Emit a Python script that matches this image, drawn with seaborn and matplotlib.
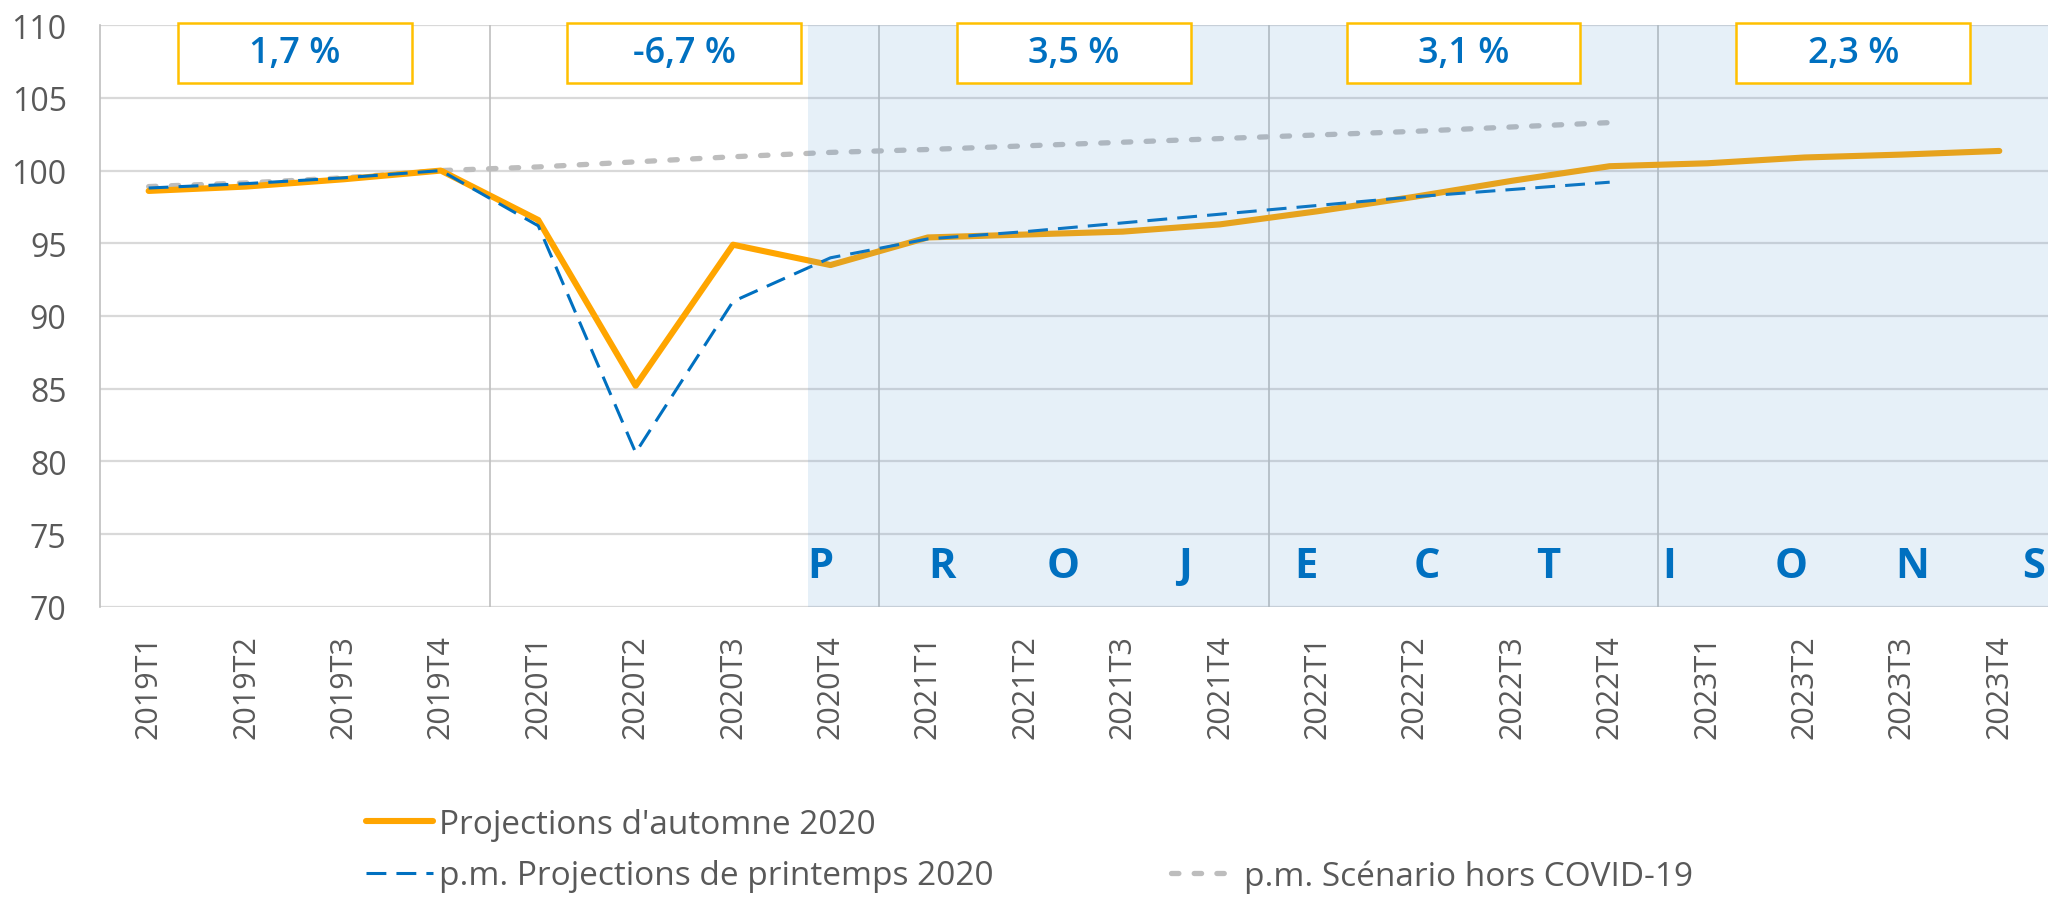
import matplotlib
matplotlib.use("Agg")
import matplotlib.pyplot as plt
import matplotlib.patches as mpatches
from matplotlib.lines import Line2D
import numpy as np
import pandas as pd
import seaborn as sns

# --- data ---
quarters = ["2019T1", "2019T2", "2019T3", "2019T4",
            "2020T1", "2020T2", "2020T3", "2020T4",
            "2021T1", "2021T2", "2021T3", "2021T4",
            "2022T1", "2022T2", "2022T3", "2022T4",
            "2023T1", "2023T2", "2023T3", "2023T4"]
autumn_2020 = [98.6, 98.9, 99.4, 100.0, 96.6, 85.2, 94.9, 93.5,
               95.4, 95.6, 95.8, 96.3, 97.2, 98.2, 99.3, 100.3,
               100.5, 100.9, 101.1, 101.35]
spring_2020 = [98.8, 99.1, 99.5, 100.0, 96.2, 80.6, 91.0, 94.0,
               95.3, 95.8, 96.4, 97.0, 97.6, 98.2, 98.7, 99.2]
no_covid = [98.9, 99.15, 99.5, 100.0, 100.25, 100.6, 100.95, 101.25,
            101.45, 101.7, 101.95, 102.2, 102.45, 102.7, 103.0, 103.3]
growth_labels = ["1,7 %", "-6,7 %", "3,5 %", "3,1 %", "2,3 %"]
proj_word = "PROJECTIONS"

labels = ["Projections d'automne 2020",
          "p.m. Projections de printemps 2020",
          "p.m. Scénario hors COVID-19"]

ORANGE = "#FFA500"
BLUE = "#0070C0"
GREY = "#BDBDBD"
TXT = "#595959"

sns.set_style("white")
plt.rcParams["font.family"] = ["Open Sans", "DejaVu Sans"]

fig = plt.figure(figsize=(20.48, 9.03), dpi=100)
ax = fig.add_axes([0.0488, 0.327, 0.9512, 0.644])

x_all = np.arange(len(quarters))
df_a = pd.DataFrame({"x": x_all, "v": autumn_2020})
df_s = pd.DataFrame({"x": x_all[:len(spring_2020)], "v": spring_2020})
df_n = pd.DataFrame({"x": x_all[:len(no_covid)], "v": no_covid})

sns.lineplot(data=df_n, x="x", y="v", ax=ax, color=GREY, linewidth=3.8,
             linestyle=(0, (1.4, 2.9)), dash_capstyle="round",
             label=labels[2], zorder=3)
sns.lineplot(data=df_a, x="x", y="v", ax=ax, color=ORANGE, linewidth=4.4,
             label=labels[0], zorder=3.2)
sns.lineplot(data=df_s, x="x", y="v", ax=ax, color=BLUE, linewidth=2.2,
             linestyle=(0, (6.5, 3.3)), label=labels[1], zorder=3.4)

# projection shading (semi-transparent, drawn over the lines)
ax.axvspan(6.77, 19.5, color="#5B9BD5", alpha=0.15, lw=0, zorder=4)

ax.set_xlim(-0.5, 19.5)
ax.set_ylim(70, 110)
ax.set_yticks(range(70, 111, 5))
ax.set_xticks(x_all)
ax.set_xticklabels(quarters, rotation=90)
ax.set_xlabel("")
ax.set_ylabel("")

ax.grid(axis="y", color="#D9D9D9", linewidth=1.6, zorder=0)
ax.set_axisbelow(True)
for xv in [3.5, 7.5, 11.5, 15.5]:
    ax.axvline(xv, color="#BFBFBF", linewidth=1.2, zorder=1)

for s in ["top", "right", "bottom"]:
    ax.spines[s].set_visible(False)
ax.spines["left"].set_color("#BFBFBF")
ax.spines["left"].set_linewidth(1.2)

ax.tick_params(axis="x", which="major", length=0, pad=20, labelsize=22,
               labelcolor=TXT)
ax.tick_params(axis="y", which="major", length=6, width=1.2, color="#D9D9D9",
               pad=18, labelsize=23, labelcolor=TXT)
ax.set_xticks([-0.5, 3.5, 7.5, 11.5, 15.5], minor=True)
ax.tick_params(axis="x", which="minor", length=14, width=1.2, color="#C8C8C8")

# growth boxes, one per year
box_w, box_h = 2.4, 4.1
for k, txt in enumerate(growth_labels):
    cx = 4 * k + 1.5
    cy = 108.1
    rect = mpatches.Rectangle((cx - box_w / 2, cy - box_h / 2), box_w, box_h,
                              facecolor="white", edgecolor="#FFC000",
                              linewidth=1.8, clip_on=False, zorder=6)
    ax.add_patch(rect)
    ax.text(cx, cy, txt, ha="center", va="center", fontsize=26,
            fontweight="semibold", color=BLUE, zorder=7, clip_on=False)

# spaced-out PROJECTIONS label
for ch, xp in zip(proj_word, np.linspace(6.9, 19.35, len(proj_word))):
    ax.text(xp, 72.75, ch, ha="center", va="center", fontsize=30,
            fontweight="bold", color=BLUE, zorder=7)

ax.get_legend().remove()
h = {l.get_label(): l for l in ax.get_lines() if l.get_label() in labels}
blank = Line2D([], [], color="none")
fig.legend([h[labels[0]], h[labels[1]], blank, h[labels[2]]],
           [labels[0], labels[1], "", labels[2]],
           ncol=2, loc="upper left", bbox_to_anchor=(0.1787, 0.104),
           frameon=False, fontsize=24, labelcolor=TXT, handlelength=2.0,
           handletextpad=0.2, columnspacing=5.3, labelspacing=0.55,
           borderpad=0, borderaxespad=0)

fig.savefig("out.png", dpi=100)
